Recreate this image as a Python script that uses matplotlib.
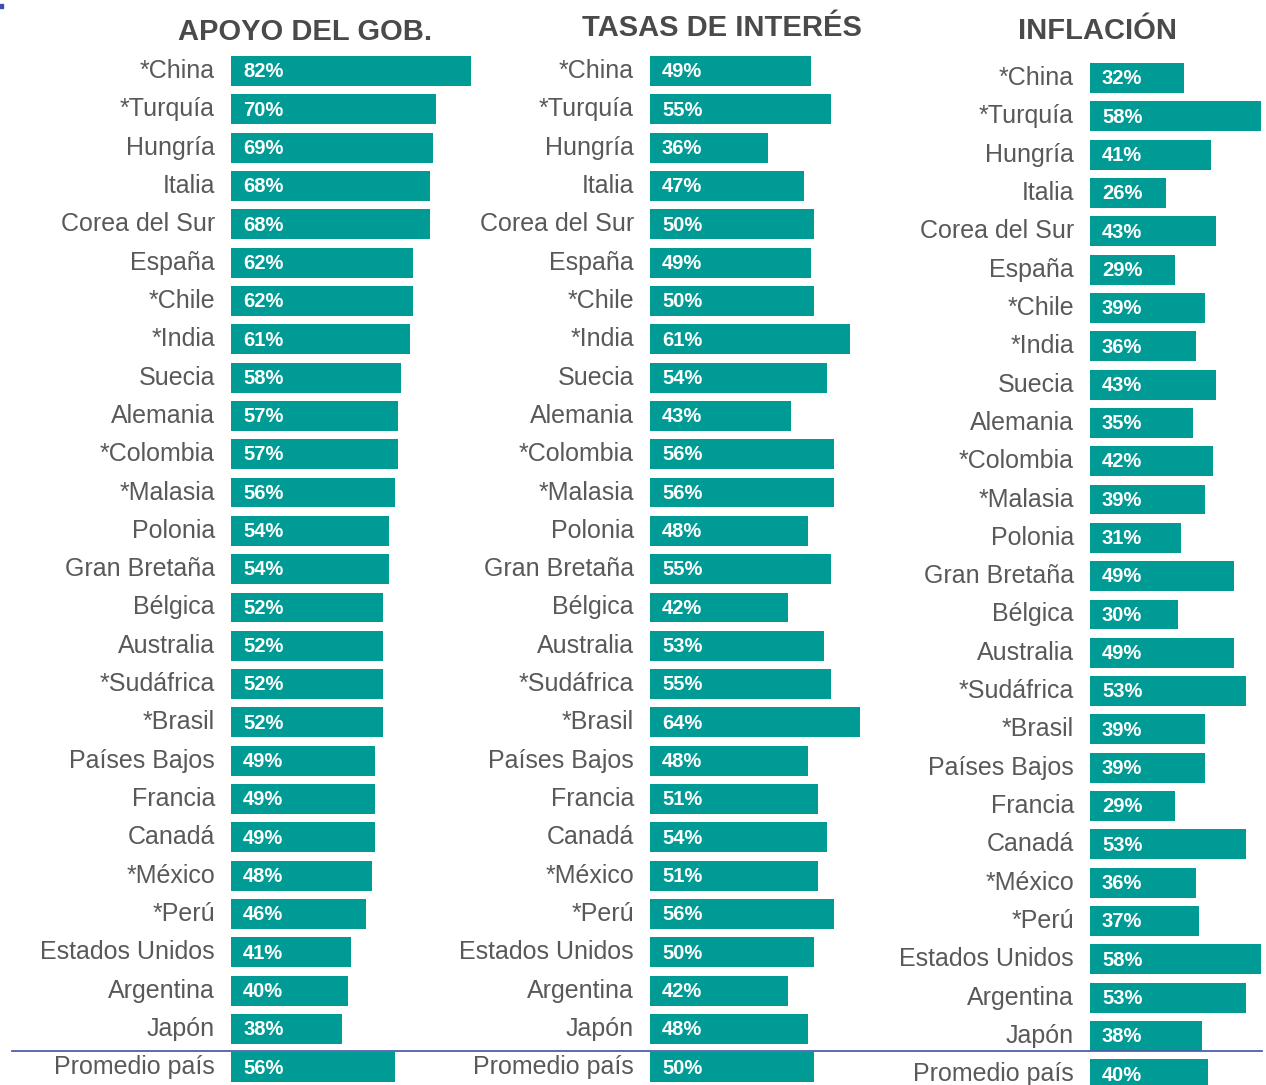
import matplotlib
matplotlib.use("Agg")
import matplotlib.pyplot as plt
from matplotlib.lines import Line2D
from matplotlib.patches import Rectangle

countries = ["*China", "*Turquía", "Hungría", "Italia", "Corea del Sur", "España",
             "*Chile", "*India", "Suecia", "Alemania", "*Colombia", "*Malasia",
             "Polonia", "Gran Bretaña", "Bélgica", "Australia", "*Sudáfrica",
             "*Brasil", "Países Bajos", "Francia", "Canadá", "*México", "*Perú",
             "Estados Unidos", "Argentina", "Japón", "Promedio país"]

apoyo = [82, 70, 69, 68, 68, 62, 62, 61, 58, 57, 57, 56, 54, 54, 52, 52, 52,
         52, 49, 49, 49, 48, 46, 41, 40, 38, 56]
tasas = [49, 55, 36, 47, 50, 49, 50, 61, 54, 43, 56, 56, 48, 55, 42, 53, 55,
         64, 48, 51, 54, 51, 56, 50, 42, 48, 50]
inflacion = [32, 58, 41, 26, 43, 29, 39, 36, 43, 35, 42, 39, 31, 49, 30, 49, 53,
             39, 39, 29, 53, 36, 37, 58, 53, 38, 40]

titles = ["APOYO DEL GOB.", "TASAS DE INTERÉS", "INFLACIÓN"]

W, H = 1266, 1085
fig = plt.figure(figsize=(W / 100, H / 100), dpi=100)
fig.patch.set_facecolor("white")

BAR = "#009b95"
TXT = "#595959"
TITLE = "#4a4a4a"
FONT = ["Liberation Sans", "DejaVu Sans"]

# panel layout: (bar start px, px per percent, first row y px, title center x, title y)
panels = [
    (231, 2.93, 71, 305, 32),
    (650, 3.285, 71, 722, 28),
    (1090, 2.94, 78, 1097, 31),
]
row_px = 38.32
series = [apoyo, tasas, inflacion]

for (x0, ppp, y0, tx, ty), vals, title in zip(panels, series, titles):
    width_px = W - x0 + 5
    ax = fig.add_axes([x0 / W, 0, width_px / W, 1])
    ax.set_xlim(0, width_px / ppp)
    ax.set_ylim((H - y0) / row_px, -y0 / row_px)
    ax.axis("off")
    ypos = list(range(len(vals)))
    ax.barh(ypos, vals, height=0.78, color=BAR, edgecolor="none")
    for i, (c, v) in enumerate(zip(countries, vals)):
        ax.text(-16 / ppp, i, c, ha="right", va="center", fontsize=18,
                color=TXT, family=FONT)
        ax.text(12 / ppp, i + 0.02, f"{v}%", ha="left", va="center",
                fontsize=14.5, color="white", fontweight="bold", family=FONT)
    fig.text(tx / W, 1 - ty / H, title, ha="center", va="center",
             fontsize=21, fontweight="bold", color=TITLE, family=FONT)

# separator line above average row
fig.add_artist(Line2D([12 / W, 1262 / W], [1 - 1051 / H, 1 - 1051 / H],
                      color="#4f5fa8", linewidth=1.3))

# tiny blue mark in the top-left corner
fig.add_artist(Rectangle((0, 1 - 8 / H), 3 / W, 4 / H, color="#3a4fb0",
                         transform=fig.transFigure))

fig.savefig("out.png", dpi=100, facecolor="white")
